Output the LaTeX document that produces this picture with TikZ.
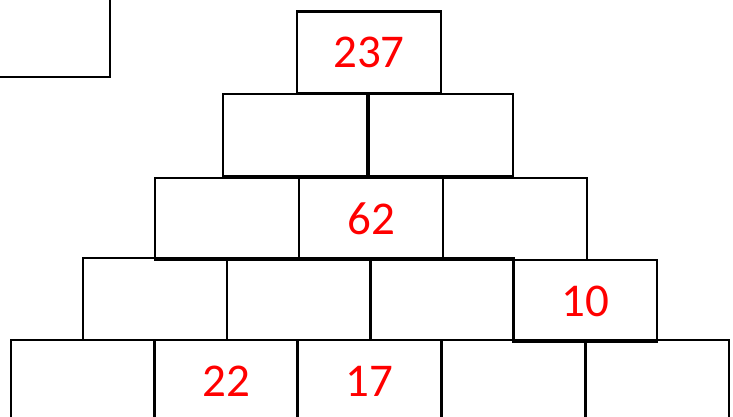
\documentclass[tikz,border=0pt]{standalone}
\usepackage{fontspec}
\setmainfont{Carlito}
\begin{document}
\begin{tikzpicture}[x=1pt,y=1pt,
  brick/.style={draw=black,line width=2.2pt,minimum width=144pt,minimum height=82pt,inner sep=0pt,
    font=\fontsize{47}{47}\selectfont,text=red}]
\clip (0,0) rectangle (733,416);
\fill[white] (0,0) rectangle (733,416);
% stray box at top left
\node[brick] (corner) at (38,380) {};
% row 1
\node[brick] (r1a) at (369,363.5) {237};
% row 2
\node[brick] (r2a) at (295,281) {};
\node[brick] (r2b) at (441,281) {};
% row 3
\node[brick] (r3a) at (227,197) {};
\node[brick] (r3b) at (371,197) {62};
\node[brick] (r3c) at (515,197) {};
% row 4
\node[brick] (r4a) at (155,117) {};
\node[brick] (r4b) at (299,117) {};
\node[brick] (r4c) at (442,117) {};
\node[brick] (r4d) at (585,115) {10};
% row 5
\node[brick] (r5a) at (83,35) {};
\node[brick] (r5b) at (226,35) {22};
\node[brick] (r5c) at (369,35) {17};
\node[brick] (r5d) at (513.5,35) {};
\node[brick] (r5e) at (657,35) {};
\end{tikzpicture}
\end{document}
